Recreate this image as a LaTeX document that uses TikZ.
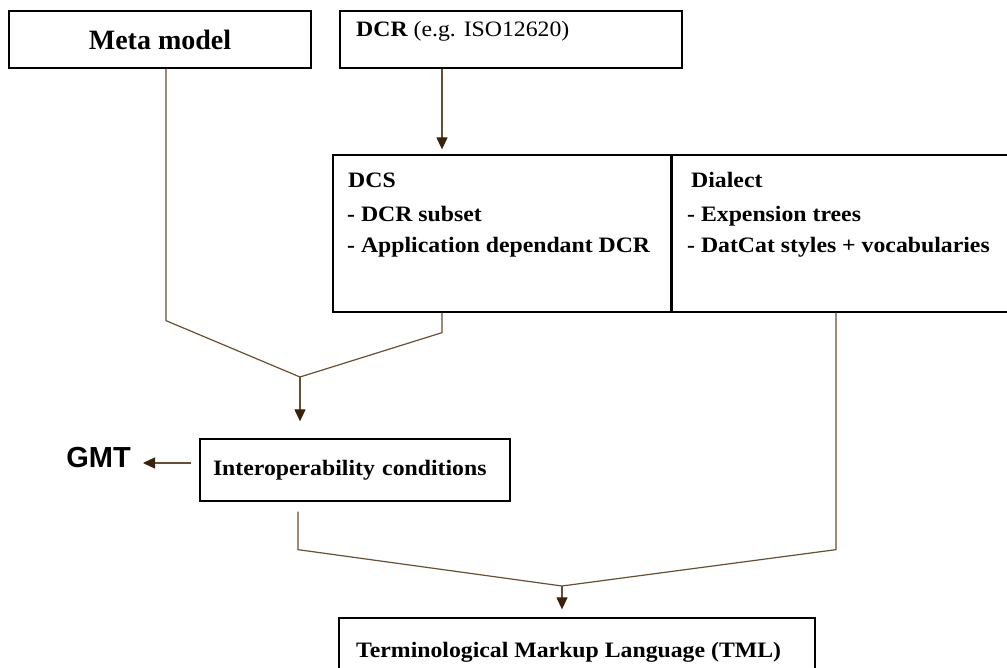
\documentclass[tikz,border=0pt]{standalone}
\usepackage{fontspec}
\setmainfont{Liberation Serif}
\newfontfamily\boxfont[FakeStretch=1.08]{Liberation Serif}
\newfontfamily\gmtfont{Liberation Sans}
\usetikzlibrary{arrows.meta}

\definecolor{wirecol}{HTML}{6B4E31}
\definecolor{tipcol}{HTML}{3A2208}

\tikzset{
  box/.style={draw=black, line width=1.3pt, fill=white, inner sep=0pt},
  boxtext/.style={font=\boxfont\fontsize{22}{26}\selectfont\bfseries},
  txt/.style={inner sep=0pt, anchor=base west},
  wire/.style={draw=wirecol, line width=1.2pt},
  flow/.style={wire, -{Triangle[length=12pt, width=11pt, color=tipcol]}},
}

\begin{document}
\begin{tikzpicture}[x=1pt, y=-1pt]
\clip (0,0) rectangle (1007,668);
\fill[white] (0,0) rectangle (1007,668);

% boxes
\node[box, minimum width=302pt, minimum height=57pt,
      font=\fontsize{28}{32}\selectfont\bfseries] (meta) at (160,39.5) {Meta model};
\node[box, minimum width=342pt, minimum height=57pt] (dcr) at (511,39.5) {};
\node[box, minimum width=338pt, minimum height=157pt] (dcs) at (502,233.5) {};
\node[box, minimum width=349pt, minimum height=157pt] (dialect) at (845.5,233.5) {};
\draw[black, line width=2.6pt] (dcs.north east) -- (dcs.south east);
\node[box, minimum width=310pt, minimum height=62pt, text width=284pt,
      align=left, boxtext] (interop) at (355,470) {Interoperability conditions};
\node[box, minimum width=476pt, minimum height=83pt] (tml) at (577,659.5) {};

% texts
\node[txt, boxtext] (dcrtext) at (356,37)
  {DCR \mdseries(e.g. ISO12620)};
\node[txt, boxtext] (dcs1) at (348,188) {DCS};
\node[txt, boxtext] (dcs2) at (347,222) {- DCR subset};
\node[txt, boxtext] (dcs3) at (347,253) {- Application dependant DCR};
\node[txt, boxtext] (dia1) at (691,188) {Dialect};
\node[txt, boxtext] (dia2) at (687,222) {- Expension trees};
\node[txt, boxtext] (dia3) at (687,253) {- DatCat styles + vocabularies};
\node[txt, boxtext] (tmltext) at (356,657) {Terminological Markup Language (TML)};
\node[inner sep=0pt, anchor=base east, font=\gmtfont\fontsize{29}{32}\selectfont\bfseries]
  (gmt) at (131,467) {GMT};

% ports and joins
\coordinate (metaout) at ([xshift=6pt]meta.south);
\coordinate (dcrout) at ([xshift=-69pt]dcr.south);
\coordinate (dcsout) at ([xshift=-60pt]dcs.south);
\coordinate (diaout) at ([xshift=-9.5pt]dialect.south);
\coordinate (ioout) at ([xshift=-57pt, yshift=-10pt]interop.south);
\coordinate (ioleft) at ([yshift=7pt]interop.west);
\coordinate (j1) at (300,377);
\coordinate (j2) at (562,586);

% connectors
\draw[flow, shorten >=5pt] (dcrout) -- (dcrout |- dcs.north);
\draw[wire] (metaout) -- ++(0,252) -- (j1);
\draw[wire] (dcsout) -- ++(0,20) -- (j1);
\draw[flow, shorten >=17pt] (j1) -- (j1 |- interop.north);
\draw[flow, shorten <=8pt, shorten >=12pt] (ioleft) -- (ioleft -| gmt.east);
\draw[wire] (ioout) -- ++(0,38) -- (j2);
\draw[wire] (diaout) -- ++(0,237) -- (j2);
\draw[flow, shorten >=8pt] (j2) -- (j2 |- tml.north);
\end{tikzpicture}
\end{document}
